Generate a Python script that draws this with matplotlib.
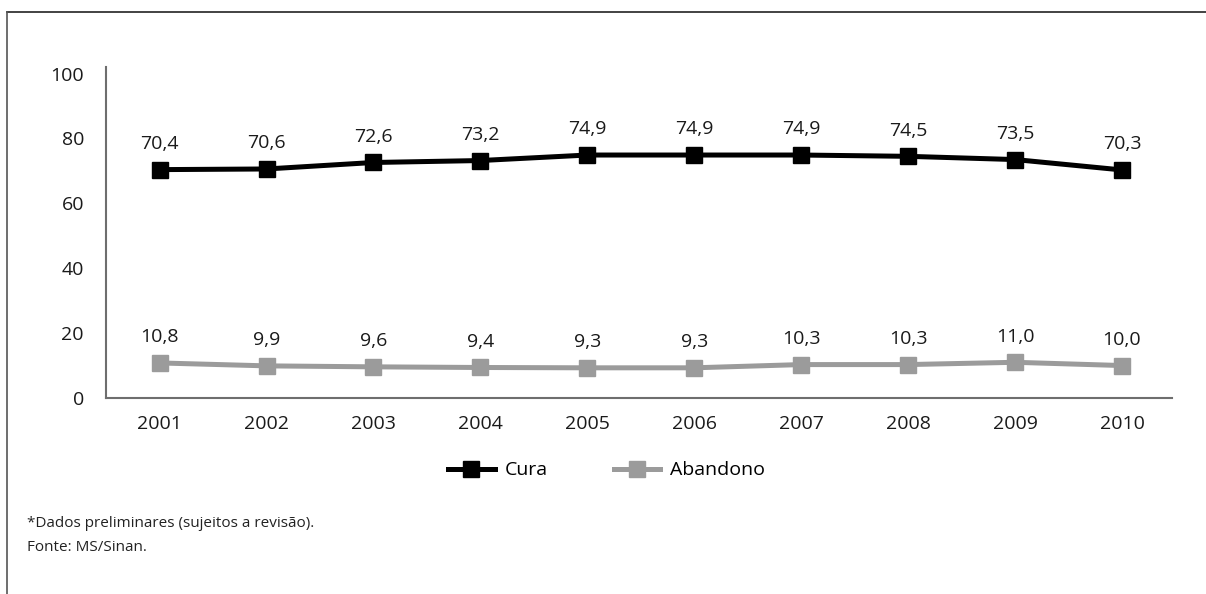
import matplotlib.pyplot as plt
from matplotlib.lines import Line2D

anos = ['2001', '2002', '2003', '2004', '2005', '2006', '2007', '2008', '2009', '2010']
cura = [70.4, 70.6, 72.6, 73.2, 74.9, 74.9, 74.9, 74.5, 73.5, 70.3]
abandono = [10.8, 9.9, 9.6, 9.4, 9.3, 9.3, 10.3, 10.3, 11.0, 10.0]
yticks = [0, 20, 40, 60, 80, 100]

plt.rcParams['font.family'] = ['Open Sans', 'DejaVu Sans']
FS = 14

fig = plt.figure(figsize=(12.06, 5.94), dpi=100)
ax = fig.add_axes([0.088, 0.330, 0.884, 0.557])

x = list(range(1, len(anos) + 1))
ax.plot(x, cura, color='black', lw=3.6, marker='s', ms=12, label='Cura')
ax.plot(x, abandono, color='#9b9b9b', lw=3.6, marker='s', ms=12, label='Abandono')

# rótulos de valor com vírgula decimal
for xi, v in zip(x, cura):
    ax.annotate(f'{v:.1f}'.replace('.', ','), xy=(xi, v), xytext=(0, 12),
                textcoords='offset points', ha='center', va='bottom', fontsize=FS,
                color='#1a1a1a')
for xi, v in zip(x, abandono):
    ax.annotate(f'{v:.1f}'.replace('.', ','), xy=(xi, v), xytext=(0, 12),
                textcoords='offset points', ha='center', va='bottom', fontsize=FS,
                color='#1a1a1a')

ax.set_xlim(0.5, 10.47)
ax.set_ylim(0, 102)
ax.set_xticks(x)
ax.set_xticklabels(anos, fontsize=FS, color='#1a1a1a')
ax.set_yticks(yticks)
ax.set_yticklabels([str(t) for t in yticks], fontsize=FS, color='#1a1a1a')
ax.tick_params(length=0, pad=12)
ax.tick_params(axis='y', pad=16)

for s in ['top', 'right']:
    ax.spines[s].set_visible(False)
for s in ['left', 'bottom']:
    ax.spines[s].set_color('#6e6e6e')
    ax.spines[s].set_linewidth(1.5)

handles = [Line2D([], [], color='black', lw=3.6, marker='s', ms=12),
           Line2D([], [], color='#9b9b9b', lw=3.6, marker='s', ms=12)]
fig.legend(handles, ['Cura', 'Abandono'], loc='center', bbox_to_anchor=(0.503, 0.208),
           ncol=2, frameon=False, fontsize=FS, handlelength=2.4, handletextpad=0.5,
           columnspacing=3.4)

fig.text(0.022, 0.118, '*Dados preliminares (sujeitos a revisão).', fontsize=11, color='#222222', va='center')
fig.text(0.022, 0.078, 'Fonte: MS/Sinan.', fontsize=11, color='#222222', va='center')

# moldura superior e esquerda
fig.add_artist(Line2D([0.006, 1.0], [0.98, 0.98], color='#222222', lw=1.2))
fig.add_artist(Line2D([0.006, 0.006], [0.0, 0.98], color='#555555', lw=1.2))

fig.savefig('out.png', dpi=100, facecolor='white')
